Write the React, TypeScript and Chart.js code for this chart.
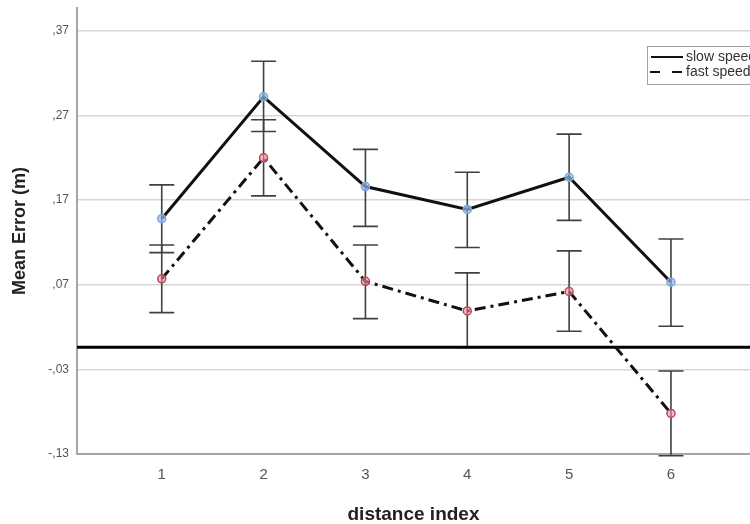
import React, { useEffect, useRef } from "react";
import { Chart, registerables } from "chart.js";

Chart.register(...registerables);

// ---- data ----
const categories = [1, 2, 3, 4, 5, 6];
const seriesNames = ["slow speed", "fast speed"];
const slowMean = [0.148, 0.292, 0.186, 0.159, 0.197, 0.073];
const slowLow = [0.108, 0.251, 0.139, 0.114, 0.146, 0.021];
const slowHigh = [0.188, 0.334, 0.230, 0.203, 0.248, 0.124];
const fastMean = [0.077, 0.220, 0.074, 0.039, 0.062, -0.082];
const fastLow = [0.037, 0.175, 0.030, -0.004, 0.015, -0.132];
const fastHigh = [0.117, 0.265, 0.117, 0.084, 0.110, -0.032];
const yTicks = [-0.13, -0.03, 0.07, 0.17, 0.27, 0.37];
const referenceLine = -0.004;
const xTitle = "distance index";
const yTitle = "Mean Error (m)";

const FONT = "'Liberation Sans', Arial, sans-serif";

const fmt = (v: number) => {
  const s = Math.abs(v).toFixed(2).replace(/^0\./, ",");
  return v < 0 ? "-" + s : s;
};

// stretch plot area to the right edge of the canvas
const stretchPlugin = {
  id: "stretchRight",
  afterLayout(chart: any) {
    const W = chart.width;
    const xs = chart.scales.x;
    chart.chartArea.right = W;
    chart.chartArea.width = W - chart.chartArea.left;
    xs.right = W;
    xs.width = W - xs.left;
    xs.configure();
  },
};

const errorBarPlugin = {
  id: "errorBars",
  beforeDatasetsDraw(chart: any) {
    const { ctx, scales } = chart;
    const xs = scales.x;
    const ys = scales.y;
    const sets = [
      [slowLow, slowHigh],
      [fastLow, fastHigh],
    ];
    ctx.save();
    ctx.strokeStyle = "#404040";
    ctx.lineWidth = 1.6;
    const cap = 12.5;
    sets.forEach(([lo, hi]) => {
      categories.forEach((c, i) => {
        const x = xs.getPixelForValue(c);
        const y1 = ys.getPixelForValue(lo[i]);
        const y2 = ys.getPixelForValue(hi[i]);
        ctx.beginPath();
        ctx.moveTo(x, y1);
        ctx.lineTo(x, y2);
        ctx.moveTo(x - cap, y1);
        ctx.lineTo(x + cap, y1);
        ctx.moveTo(x - cap, y2);
        ctx.lineTo(x + cap, y2);
        ctx.stroke();
      });
    });
    // reference line
    const yr = ys.getPixelForValue(referenceLine);
    ctx.strokeStyle = "#000";
    ctx.lineWidth = 3;
    ctx.beginPath();
    ctx.moveTo(chart.chartArea.left, yr);
    ctx.lineTo(chart.chartArea.right, yr);
    ctx.stroke();
    ctx.restore();
  },
};

const legendPlugin = {
  id: "customLegend",
  afterDraw(chart: any) {
    const { ctx } = chart;
    ctx.save();
    ctx.fillStyle = "#fff";
    ctx.fillRect(647, 46, 110, 38);
    ctx.strokeStyle = "#a0a0a0";
    ctx.lineWidth = 1;
    ctx.strokeRect(647.5, 46.5, 110, 38);
    ctx.strokeStyle = "#111";
    ctx.lineWidth = 2;
    ctx.beginPath();
    ctx.moveTo(651, 57);
    ctx.lineTo(683, 57);
    ctx.stroke();
    ctx.setLineDash([10, 12]);
    ctx.beginPath();
    ctx.moveTo(650, 72);
    ctx.lineTo(682, 72);
    ctx.stroke();
    ctx.setLineDash([]);
    ctx.fillStyle = "#333";
    ctx.font = `14px ${FONT}`;
    ctx.textBaseline = "middle";
    ctx.textAlign = "left";
    ctx.fillText(seriesNames[0], 686, 57);
    ctx.fillText(seriesNames[1], 686, 72);
    ctx.restore();
  },
};

export default function App() {
  const ref = useRef<HTMLCanvasElement | null>(null);
  useEffect(() => {
    if (!ref.current) return;
    const chart = new Chart(ref.current, {
      type: "line",
      data: {
        datasets: [
          {
            label: seriesNames[0],
            data: categories.map((x, i) => ({ x, y: slowMean[i] })),
            borderColor: "#111",
            borderWidth: 3,
            pointRadius: 4,
            pointBackgroundColor: "rgba(150,185,230,0.7)",
            pointBorderColor: "#7ea6dc",
            pointBorderWidth: 1.5,
            tension: 0,
          },
          {
            label: seriesNames[1],
            data: categories.map((x, i) => ({ x, y: fastMean[i] })),
            borderColor: "#111",
            borderWidth: 3,
            borderDash: [11, 5, 3, 5],
            pointRadius: 4,
            pointBackgroundColor: "rgba(230,150,165,0.6)",
            pointBorderColor: "#c8405a",
            pointBorderWidth: 1.5,
            tension: 0,
          },
        ],
      },
      options: {
        animation: false,
        responsive: false,
        devicePixelRatio: 1,
        layout: { padding: { top: 8, left: 0, right: 0, bottom: 0 } },
        plugins: { legend: { display: false }, tooltip: { enabled: false } },
        scales: {
          x: {
            type: "linear",
            min: 0.168,
            max: 6.776,
            afterBuildTicks: (s: any) => {
              s.ticks = categories.map((v) => ({ value: v }));
            },
            afterFit: (s: any) => {
              s.height = 70;
              s.paddingLeft = 0;
              s.paddingRight = 0;
            },
            grid: { display: false, drawTicks: false },
            border: { color: "#a6a6a6", width: 2 },
            ticks: {
              padding: 12,
              color: "#555",
              font: { family: FONT, size: 15 },
              callback: (v: any) => String(v),
            },
            title: {
              display: true,
              text: xTitle,
              color: "#222",
              font: { family: FONT, size: 19, weight: "bold" },
              padding: { top: 0, bottom: -2 },
            },
          },
          y: {
            type: "linear",
            min: -0.13,
            max: 0.397,
            afterBuildTicks: (s: any) => {
              s.ticks = yTicks.map((v) => ({ value: v }));
            },
            afterFit: (s: any) => {
              s.width = 77;
              s.paddingTop = 0;
              s.paddingBottom = 0;
            },
            grid: { color: "#d6d6d6", lineWidth: 1.5, drawTicks: false },
            border: { color: "#a6a6a6", width: 2 },
            ticks: {
              padding: 8,
              color: "#555",
              font: { family: FONT, size: 12 },
              callback: (v: any) => fmt(Number(v)),
            },
            title: {
              display: true,
              text: yTitle,
              color: "#222",
              font: { family: FONT, size: 18, weight: "bold" },
              padding: { top: 9, bottom: 0 },
            },
          },
        },
      },
      plugins: [stretchPlugin, errorBarPlugin, legendPlugin],
    } as any);
    return () => chart.destroy();
  }, []);
  return (
    <div style={{ position: "absolute", left: 0, top: 0, width: 750, height: 524, background: "#fff" }}>
      <canvas ref={ref} width={750} height={524} style={{ width: 750, height: 524, display: "block" }} />
    </div>
  );
}
